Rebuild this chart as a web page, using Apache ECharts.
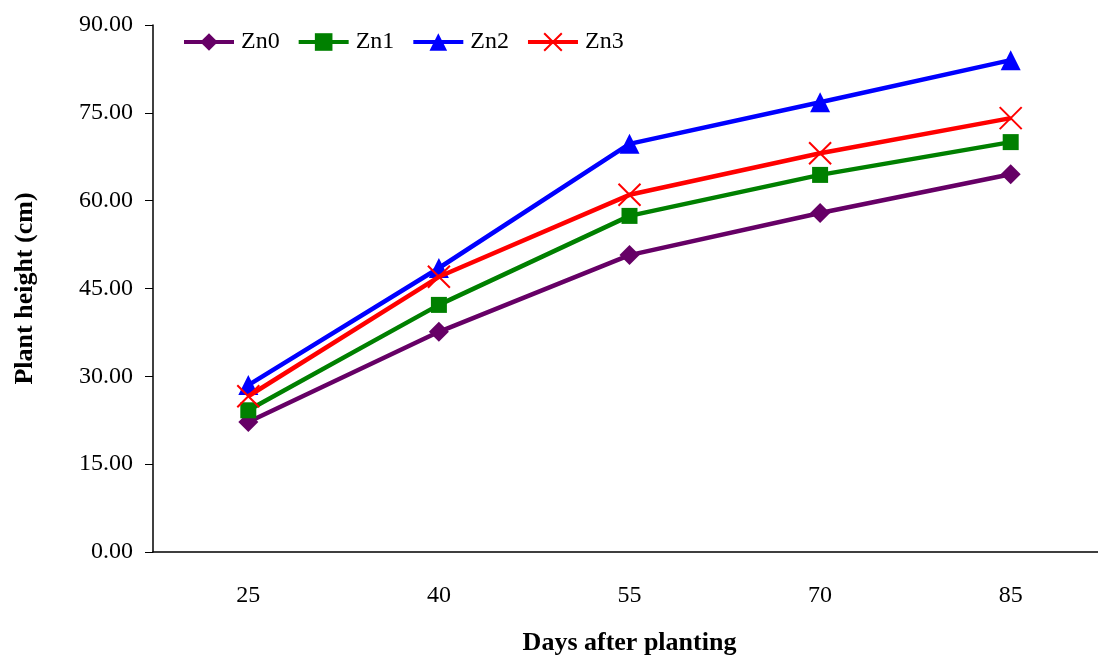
<!DOCTYPE html>
<html>
<head>
<meta charset="utf-8">
<script src="https://cdn.jsdelivr.net/npm/echarts@6/dist/echarts.min.js"></script>
<style>
  html, body { margin: 0; padding: 0; background: #fff; }
  #chart { width: 1098px; height: 657px; }
</style>
</head>
<body>
<div id="chart"></div>
<script>
var days = ['25', '40', '55', '70', '85'];
var zn0 = [22.2, 37.6, 50.7, 57.9, 64.5];
var zn1 = [24.2, 42.2, 57.4, 64.4, 70.0];
var zn2 = [28.5, 48.5, 69.7, 76.8, 84.0];
var zn3 = [26.6, 47.0, 61.0, 68.1, 74.1];

var font = 'Liberation Serif';
var crossPath = 'path://M0,0L10,10M10,0L0,10';

var chart = echarts.init(document.getElementById('chart'));

function line(name, data, color, symbol, size, cross) {
	return {
		name: name,
		type: 'line',
		data: data,
		symbol: symbol,
		symbolSize: size,
		showAllSymbol: true,
		lineStyle: { color: color, width: 4.5 },
		itemStyle: cross
			? { color: 'none', borderColor: color, borderWidth: 2 }
			: { color: color, borderWidth: 0 },
		emphasis: { disabled: true },
		z: cross ? 3 : 2
	};
}

var option = {
	animation: false,
	textStyle: { fontFamily: font },
	legend: {
		left: 177,
		top: 25,
		itemWidth: 50,
		itemHeight: 22,
		itemGap: 17,
		lineStyle: { width: 4 },
		textStyle: { fontFamily: font, fontSize: 24, color: '#000', padding: [0, 0, 0, 2] },
		data: ['Zn0', 'Zn1', 'Zn2', 'Zn3']
	},
	grid: {
		left: 153,
		top: 25,
		right: -8,
		bottom: 105,
		containLabel: false,
		outerBoundsMode: 'none'
	},
	xAxis: {
		type: 'category',
		data: days,
		boundaryGap: true,
		name: 'Days after planting',
		nameLocation: 'middle',
		nameGap: 78,
		nameTextStyle: { fontFamily: font, fontSize: 26, fontWeight: 'bold', color: '#000' },
		axisLine: { lineStyle: { color: '#000', width: 1.5 } },
		axisTick: { alignWithLabel: false, length: 10, lineStyle: { color: '#000' } },
		axisLabel: { fontFamily: font, fontSize: 24, color: '#000', margin: 32 }
	},
	yAxis: {
		type: 'value',
		min: 0,
		max: 90,
		interval: 15,
		name: 'Plant height (cm)',
		nameLocation: 'middle',
		nameGap: 115,
		nameTextStyle: { fontFamily: font, fontSize: 26, fontWeight: 'bold', color: '#000' },
		axisLine: { show: true, lineStyle: { color: '#000', width: 1.5 } },
		axisTick: { show: true, length: 8, lineStyle: { color: '#000' } },
		splitLine: { show: false },
		axisLabel: {
			fontFamily: font,
			fontSize: 24,
			color: '#000',
			margin: 20,
			formatter: function (v) { return v.toFixed(2); }
		}
	},
	series: [
		line('Zn0', zn0, '#660066', 'diamond', 20, false),
		line('Zn1', zn1, '#008000', 'rect', 16, false),
		line('Zn2', zn2, '#0000ff', 'triangle', 20, false),
		line('Zn3', zn3, '#ff0000', crossPath, 22, true)
	]
};

chart.setOption(option);
</script>
</body>
</html>
